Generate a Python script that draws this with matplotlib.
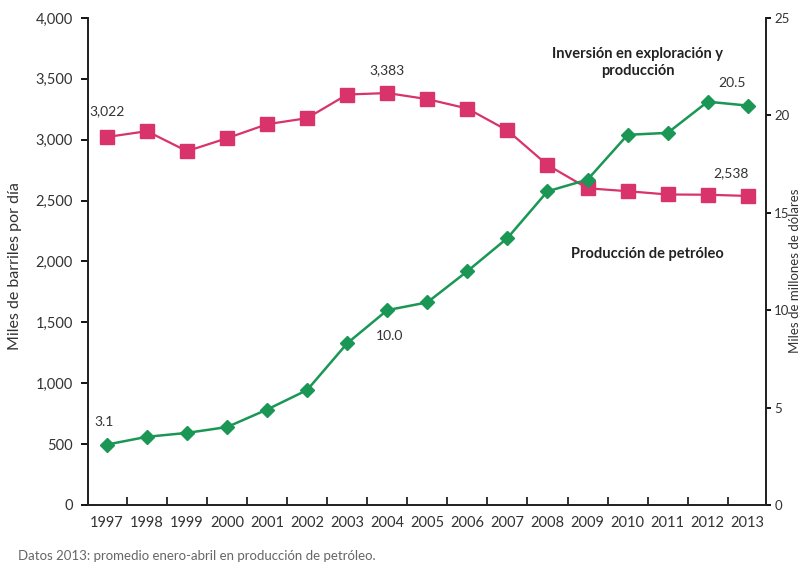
import numpy as np
import matplotlib
matplotlib.use("Agg")
import matplotlib.pyplot as plt
from matplotlib.ticker import FuncFormatter, FixedLocator

plt.rcParams['font.family'] = ['Lato', 'DejaVu Sans']

years = list(range(1997, 2014))
# miles de barriles diarios
produccion = [3022, 3070, 2906, 3012, 3127, 3177, 3371, 3383, 3333, 3256,
              3076, 2792, 2601, 2577, 2550, 2548, 2538]
# miles de millones de dolares
inversion = [3.1, 3.5, 3.7, 4.0, 4.9, 5.9, 8.3, 10.0, 10.4, 12.0,
             13.7, 16.1, 16.7, 19.0, 19.1, 20.7, 20.5]

red = '#d8336a'
green = '#1a9655'
txt = '#333333'

fig = plt.figure(figsize=(8.04, 5.69), dpi=100)
ax = fig.add_axes([0.1095, 0.1125, 0.843, 0.856])
ax2 = ax.twinx()

ax.plot(years, produccion, color=red, lw=1.6, marker='s', ms=9.5,
        mfc=red, mec=red, zorder=3)
ax2.plot(years, inversion, color=green, lw=1.8, marker='D', ms=7.5,
         mfc=green, mec=green, zorder=3)

ax.set_xlim(1996.53, 2013.45)
ax.set_ylim(0, 4000)
ax2.set_ylim(0, 25)

# ticks between years, labels centred on each year
ax.xaxis.set_major_locator(FixedLocator(np.arange(1996.5, 2014, 1.0)))
ax.xaxis.set_minor_locator(FixedLocator(years))
ax.xaxis.set_major_formatter(FuncFormatter(lambda v, p: ''))
ax.xaxis.set_minor_formatter(FuncFormatter(lambda v, p: '%d' % round(v)))
ax.tick_params(axis='x', which='major', length=6, width=1.3, direction='in', color='#222222')
ax.tick_params(axis='x', which='minor', length=0, pad=8, labelsize=10.5, labelcolor=txt)

ax.set_yticks(np.arange(0, 4001, 500))
ax.yaxis.set_major_formatter(FuncFormatter(lambda v, p: '{:,.0f}'.format(v)))
ax.tick_params(axis='y', length=5, width=1.3, labelsize=10.5, labelcolor=txt, pad=6)
ax2.set_yticks(np.arange(0, 26, 5))
ax2.tick_params(axis='y', length=3.5, width=1.3, labelsize=9.5, labelcolor=txt, pad=2.5)

for a in (ax, ax2):
    a.spines['top'].set_visible(False)
    for s in ('left', 'right', 'bottom'):
        a.spines[s].set_linewidth(1.3)
        a.spines[s].set_color('#222222')

ax.set_ylabel('Miles de barriles por día', fontsize=11.5, color=txt)
ax.yaxis.set_label_coords(-0.098, 0.49)
ax2.set_ylabel('Miles de millones de dólares', fontsize=9.5, color=txt)
ax2.yaxis.set_label_coords(1.0345, 0.48)

# value labels
ax.annotate('3,022', (years[0], produccion[0]), xytext=(0, 14),
            textcoords='offset points', ha='center', va='bottom', fontsize=10, color=txt)
ax.annotate('3,383', (years[7], produccion[7]), xytext=(0, 12),
            textcoords='offset points', ha='center', va='bottom', fontsize=10, color=txt)
ax.annotate('2,538', (years[-1], produccion[-1]), xytext=(-12, 12),
            textcoords='offset points', ha='center', va='bottom', fontsize=10, color=txt)
ax2.annotate('3.1', (years[0], inversion[0]), xytext=(-2, 12),
             textcoords='offset points', ha='center', va='bottom', fontsize=10, color=txt)
ax2.annotate('10.0', (years[7], inversion[7]), xytext=(2, -14),
             textcoords='offset points', ha='center', va='top', fontsize=10, color=txt)
ax2.annotate('20.5', (years[-1], inversion[-1]), xytext=(-11, 12),
             textcoords='offset points', ha='center', va='bottom', fontsize=10, color=txt)

ax2.text(2010.25, 22.7, 'Inversión en exploración y\nproducción', ha='center', va='center',
         fontsize=10.5, fontweight='bold', color='#222222', linespacing=1.3)
ax2.text(2010.5, 12.9, 'Producción de petróleo', ha='center', va='center',
         fontsize=10.5, fontweight='bold', color='#222222')

fig.text(0.022, 0.012, 'Datos 2013: promedio enero-abril en producción de petróleo.',
         fontsize=9.5, color='#666666', ha='left', va='bottom')

fig.savefig('out.png', dpi=100)
